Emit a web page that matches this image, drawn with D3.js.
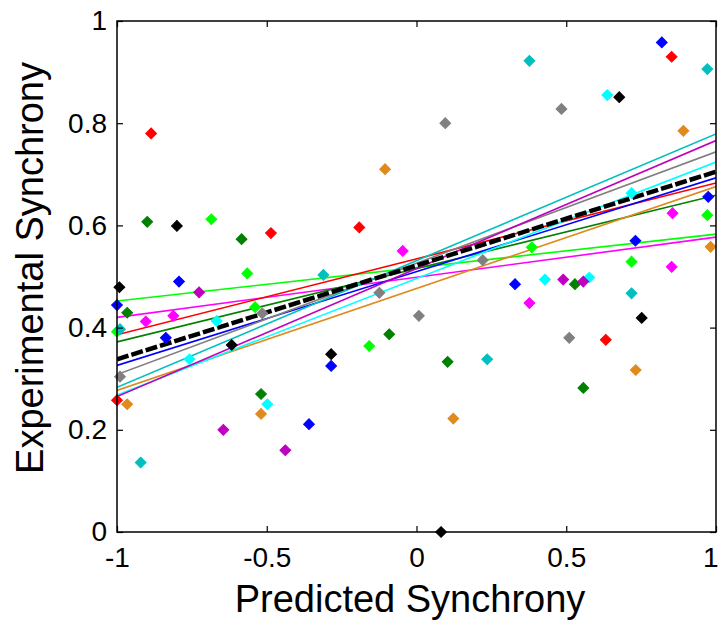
<!DOCTYPE html>
<html>
<head>
<meta charset="utf-8">
<script src="https://cdn.jsdelivr.net/npm/d3@7"></script>
<style>
  html, body { margin: 0; padding: 0; background: #fff; }
  svg { display: block; }
  text { font-family: "Liberation Sans", Arial, Helvetica, sans-serif; fill: #000; }
</style>
</head>
<body>
<svg id="chart" width="719" height="622"></svg>
<script>
// ---- data ----
const seriesNames  = ["red", "darkgreen", "black", "lime", "blue", "magenta", "cyan", "teal", "gray", "orange", "purple"];
const seriesColors = ["#ff0000", "#008000", "#000000", "#00ff00", "#0000ff", "#ff00ff", "#00ffff", "#00bfbf", "#808080", "#e08a1e", "#bf00bf"];

// scatter points [predicted, experimental] per series
const redPts       = [[-0.886,0.780],[-0.486,0.585],[-0.191,0.596],[0.852,0.930],[0.632,0.376],[-1.0,0.258]];
const darkgreenPts = [[-0.899,0.607],[-0.584,0.573],[-0.966,0.429],[-0.519,0.270],[-0.091,0.387],[0.104,0.333],[0.529,0.485],[0.557,0.282]];
const blackPts     = [[-0.800,0.599],[-0.992,0.479],[-0.617,0.366],[-0.285,0.348],[0.677,0.851],[0.752,0.419],[0.082,0.0]];
const limePts      = [[-0.685,0.612],[-0.565,0.506],[-0.539,0.440],[-1.0,0.392],[-0.158,0.364],[0.385,0.557],[0.718,0.529],[0.971,0.620]];
const bluePts      = [[-0.793,0.490],[-1.0,0.444],[-0.837,0.380],[-0.359,0.211],[-0.285,0.325],[0.819,0.958],[0.974,0.656],[0.731,0.570],[0.329,0.485]];
const magentaPts   = [[-0.046,0.550],[-0.904,0.412],[-0.812,0.423],[0.855,0.624],[0.852,0.519],[0.377,0.448]];
const cyanPts      = [[-0.667,0.413],[-0.758,0.338],[-0.498,0.250],[0.637,0.855],[0.718,0.663],[0.429,0.494],[0.577,0.498]];
const tealPts      = [[-0.311,0.503],[-0.990,0.397],[-0.921,0.136],[0.377,0.922],[0.971,0.906],[0.718,0.467],[0.236,0.338]];
const grayPts      = [[0.484,0.828],[0.096,0.800],[0.221,0.532],[-0.515,0.428],[-0.990,0.304],[0.008,0.423],[-0.124,0.468],[0.510,0.380]];
const orangePts    = [[-0.105,0.710],[0.891,0.785],[0.982,0.558],[-0.966,0.250],[-0.519,0.231],[0.732,0.317],[0.123,0.222]];
const purplePts    = [[-0.726,0.469],[-0.645,0.200],[-0.438,0.160],[0.490,0.494],[0.557,0.490]];
const seriesPoints = [redPts, darkgreenPts, blackPts, limePts, bluePts, magentaPts, cyanPts, tealPts, grayPts, orangePts, purplePts];

// regression lines: experimental value at predicted = -1 and predicted = 1
const fitNames  = ["lime", "magenta", "red", "darkgreen", "blue", "gray", "teal", "orange", "cyan", "purple"];
const fitColors = ["#00ff00", "#ff00ff", "#ff0000", "#008000", "#0000ff", "#808080", "#00bfbf", "#e08a1e", "#00ffff", "#bf00bf"];
const fitAtMinus1 = [0.452, 0.420, 0.386, 0.372, 0.326, 0.308, 0.283, 0.277, 0.268, 0.265];
const fitAtPlus1  = [0.583, 0.577, 0.683, 0.659, 0.693, 0.744, 0.779, 0.676, 0.724, 0.766];
// overall fit (black dashed)
const meanFit = [0.338, 0.705];

const xTicks = [-1, -0.5, 0, 0.5, 1];
const yTicks = [0, 0.2, 0.4, 0.6, 0.8, 1];
const xLabel = "Predicted Synchrony";
const yLabel = "Experimental Synchrony";

// ---- drawing ----
(function () {
const svg = d3.select("#chart");
const pLeft = 117, pRight = 716, pTop = 21, pBottom = 532;
const x = d3.scaleLinear().domain([-1, 1]).range([pLeft, pRight]);
const y = d3.scaleLinear().domain([0, 1]).range([pBottom, pTop]);

const plot = svg.append("g");
plot.append("clipPath").attr("id", "clip")
  .append("rect").attr("x", pLeft).attr("y", pTop).attr("width", pRight - pLeft).attr("height", pBottom - pTop);

const fitG = plot.append("g").attr("clip-path", "url(#clip)");
const lineGen = d3.line().x(d => x(d[0])).y(d => y(d[1]));

fitNames.forEach((n, i) => {
  fitG.append("path")
    .datum([[-1, fitAtMinus1[i]], [1, fitAtPlus1[i]]])
    .attr("d", lineGen)
    .attr("fill", "none")
    .attr("stroke", fitColors[i])
    .attr("stroke-width", 1.6);
});

fitG.append("path")
  .datum([[-1, meanFit[0]], [1, meanFit[1]]])
  .attr("d", lineGen)
  .attr("fill", "none")
  .attr("stroke", "#000")
  .attr("stroke-width", 4.5)
  .attr("stroke-dasharray", "12,3");

// markers (diamonds: squares turned 45 degrees)
const diamond = d3.symbol().type(d3.symbolSquare).size(58);
seriesNames.forEach((n, i) => {
  plot.append("g").selectAll("path")
    .data(seriesPoints[i])
    .join("path")
    .attr("transform", d => `translate(${x(d[0])},${y(d[1])}) rotate(45)`)
    .attr("d", diamond)
    .attr("fill", seriesColors[i])
    .attr("stroke", seriesColors[i])
    .attr("stroke-width", 1);
});

// axes with inward ticks (MATLAB style)
const fmt = d => String(d);
const axB = svg.append("g").attr("transform", `translate(0,${pBottom})`)
  .call(d3.axisBottom(x).tickValues(xTicks).tickFormat(fmt).tickSizeInner(-6).tickSizeOuter(0).tickPadding(15));
const axT = svg.append("g").attr("transform", `translate(0,${pTop})`)
  .call(d3.axisTop(x).tickValues(xTicks).tickFormat("").tickSizeInner(-6).tickSizeOuter(0));
const axL = svg.append("g").attr("transform", `translate(${pLeft},0)`)
  .call(d3.axisLeft(y).tickValues(yTicks).tickFormat(fmt).tickSizeInner(-6).tickSizeOuter(0).tickPadding(10));
const axR = svg.append("g").attr("transform", `translate(${pRight},0)`)
  .call(d3.axisRight(y).tickValues(yTicks).tickFormat("").tickSizeInner(-6).tickSizeOuter(0));

[axB, axT, axL, axR].forEach(a => {
  a.select(".domain").remove();
  a.selectAll("line").attr("stroke", "#000").attr("stroke-width", 1.2);
  a.selectAll("text").style("font-size", "28px").attr("fill", "#000");
});
axB.selectAll("text").attr("dy", "0.71em");
axB.selectAll(".tick text").filter(d => d === 1)
  .attr("text-anchor", "end").attr("x", 2);

svg.append("rect")
  .attr("x", pLeft).attr("y", pTop).attr("width", pRight - pLeft).attr("height", pBottom - pTop)
  .attr("fill", "none").attr("stroke", "#000").attr("stroke-width", 1.5);

svg.append("text")
  .attr("x", 410).attr("y", 612)
  .attr("text-anchor", "middle")
  .style("font-size", "38px")
  .text(xLabel);

svg.append("text")
  .attr("transform", `translate(43,268) rotate(-90)`)
  .attr("text-anchor", "middle")
  .style("font-size", "38px")
  .text(yLabel);
})();
</script>
</body>
</html>
